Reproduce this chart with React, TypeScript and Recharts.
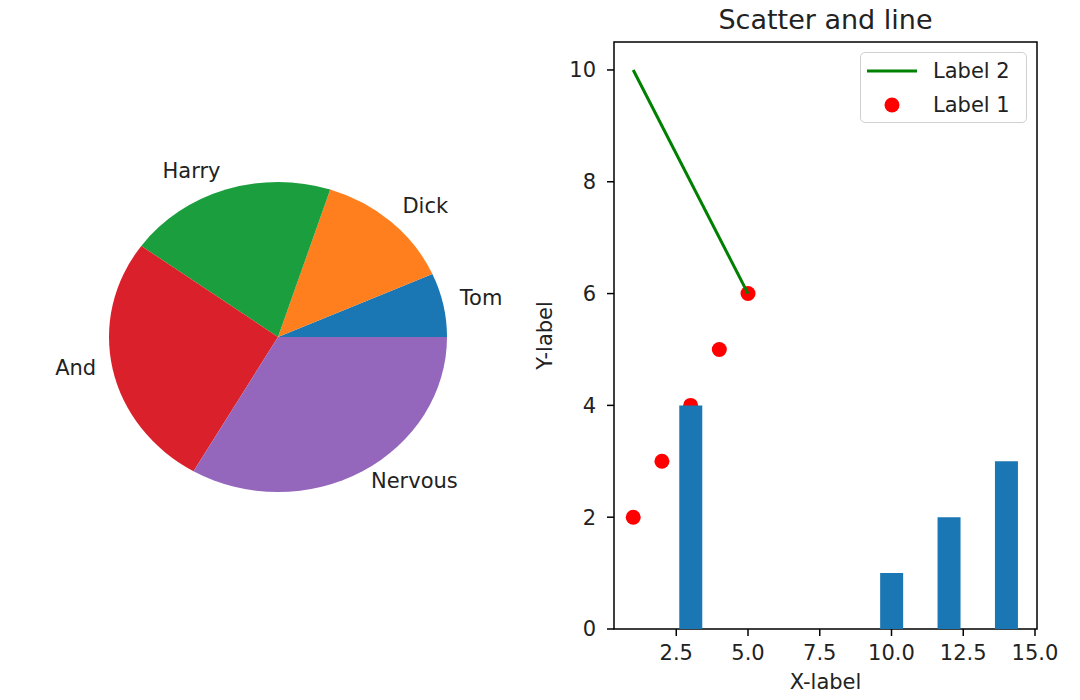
import React from 'react';
import {
  PieChart,
  Pie,
  Cell,
  ComposedChart,
  Bar,
  Line,
  Scatter,
  XAxis,
  YAxis,
  ReferenceArea,
  Legend
} from 'recharts';

const pieNames = ['Tom', 'Dick', 'Harry', 'And', 'Nervous'];
const pieValues = [1, 2, 3, 4, 5];
const pieColors = ['#1a77b4', '#ff7f1e', '#1a9e3e', '#d9202b', '#9467bd'];

const scatterX = [1, 2, 3, 4, 5];
const scatterY = [2, 3, 4, 5, 6];
const lineX = [1, 5];
const lineY = [10, 6];
const barX = [3, 10, 12, 14];
const barY = [4, 1, 2, 3];
const xTicks = [2.5, 5, 7.5, 10, 12.5, 15];
const yTicks = [0, 2, 4, 6, 8, 10];

const pieData = pieNames.map((name, i) => ({ name, value: pieValues[i] }));
const scatterData = scatterX.map((x, i) => ({ x, y: scatterY[i] }));
const lineData = lineX.map((x, i) => ({ x, y: lineY[i] }));
const barData = barX.map((x, i) => ({ x, y: barY[i] }));

const TEXT = '#222';
const FONT = 21;
// the pie in the source is an ellipse (no equal aspect), squash it vertically
const SQUASH = 0.917;
const RADIAN = Math.PI / 180;

const renderPieLabel = (props: any) => {
  const { cx, cy, midAngle, outerRadius, name } = props;
  const r = outerRadius * 1.1;
  const x = cx + r * Math.cos(-midAngle * RADIAN);
  const y = cy + r * Math.sin(-midAngle * RADIAN);
  return (
    <text
      transform={`translate(${x},${y}) scale(1,${1 / SQUASH})`}
      x={0}
      y={-4}
      textAnchor={x > cx ? 'start' : 'end'}
      dominantBaseline="central"
      fill={TEXT}
      fontSize={FONT}
    >
      {name}
    </text>
  );
};

const renderXLabel = (props: any) => {
  const vb = props.viewBox;
  return (
    <text x={vb.x + vb.width / 2} y={vb.y + 60} textAnchor="middle" fill={TEXT} fontSize={FONT}>
      X-label
    </text>
  );
};

const renderYLabel = (props: any) => {
  const vb = props.viewBox;
  const x = vb.x + 25;
  const y = vb.y + vb.height / 2;
  return (
    <text
      transform={`translate(${x},${y}) rotate(-90)`}
      x={0}
      y={0}
      textAnchor="middle"
      dominantBaseline="central"
      fill={TEXT}
      fontSize={FONT}
    >
      Y-label
    </text>
  );
};

const renderDot = (props: any) => (
  <circle cx={props.cx} cy={props.cy} r={7.5} fill="#ff0000" />
);

function LegendBox(props: any) {
  const items = [...(props.payload || [])]
    .filter((p: any) => p.type !== 'none')
    .sort((a: any, b: any) => (a.type === 'line' ? 0 : 1) - (b.type === 'line' ? 0 : 1));
  return (
    <div
      style={{
        boxSizing: 'border-box',
        width: 167,
        height: 71,
        border: '1.5px solid #d0d0d0',
        borderRadius: 5,
        background: '#fff',
        padding: '1px 0 0 6px'
      }}
    >
      {items.map((item: any) => (
        <div key={item.value} style={{ display: 'flex', alignItems: 'center', height: 34 }}>
          <svg width={50} height={20}>
            {item.type === 'line' ? (
              <line x1={0} x2={50} y1={10} y2={10} stroke="#008000" strokeWidth={3} />
            ) : (
              <circle cx={25} cy={10} r={7.5} fill="#ff0000" />
            )}
          </svg>
          <span style={{ marginLeft: 16, fontSize: FONT, color: TEXT }}>{item.value}</span>
        </div>
      ))}
    </div>
  );
}

export default function App() {
  return (
    <div
      style={{
        position: 'absolute',
        left: 0,
        top: 0,
        width: 1080,
        height: 700,
        background: '#fff',
        fontFamily: '"DejaVu Sans", sans-serif',
        overflow: 'hidden'
      }}
    >
      <div
        style={{
          position: 'absolute',
          left: 0,
          top: 0,
          transform: `scaleY(${SQUASH})`,
          transformOrigin: '278px 337px'
        }}
      >
        <PieChart width={516} height={700} margin={{ top: 0, right: 0, bottom: 0, left: 0 }}>
          <Pie
            data={pieData}
            dataKey="value"
            nameKey="name"
            cx={278}
            cy={337}
            outerRadius={169}
            startAngle={0}
            endAngle={360}
            stroke="none"
            labelLine={false}
            label={renderPieLabel}
            isAnimationActive={false}
          >
            {pieData.map((d, i) => (
              <Cell key={d.name} fill={pieColors[i]} />
            ))}
          </Pie>
        </PieChart>
      </div>

      <div
        style={{
          position: 'absolute',
          left: 614,
          top: 6,
          width: 423,
          textAlign: 'center',
          fontSize: 27,
          lineHeight: '27px',
          color: TEXT
        }}
      >
        Scatter and line
      </div>

      <div style={{ position: 'absolute', left: 520, top: 0 }}>
        <ComposedChart
          width={560}
          height={700}
          data={barData}
          margin={{ top: 42, right: 43, bottom: 0, left: 0 }}
        >
          <XAxis
            dataKey="x"
            type="number"
            domain={[0.33, 15.07]}
            allowDataOverflow
            ticks={xTicks}
            tickFormatter={(v: number) => v.toFixed(1)}
            axisLine={false}
            tickLine={{ stroke: '#000', strokeWidth: 1.5 }}
            tickSize={7}
            tickMargin={9}
            height={71}
            tick={{ fill: TEXT, fontSize: FONT }}
            label={renderXLabel}
          />
          <YAxis
            type="number"
            domain={[0, 10.5]}
            allowDataOverflow
            ticks={yTicks}
            axisLine={false}
            tickLine={{ stroke: '#000', strokeWidth: 1.5 }}
            tickSize={7}
            tickMargin={11}
            width={94}
            tick={{ fill: TEXT, fontSize: FONT }}
            label={renderYLabel}
          />
          <Scatter
            name="Label 1"
            data={scatterData}
            dataKey="y"
            fill="#ff0000"
            shape={renderDot}
            zIndex={300}
            isAnimationActive={false}
          />
          <Bar
            dataKey="y"
            fill="#1a77b4"
            barSize={23}
            legendType="none"
            zIndex={400}
            isAnimationActive={false}
          />
          <Line
            name="Label 2"
            data={lineData}
            dataKey="y"
            type="linear"
            stroke="#008000"
            strokeWidth={3}
            dot={false}
            zIndex={500}
            isAnimationActive={false}
          />
          <ReferenceArea
            x1={0.33}
            x2={15.07}
            y1={0}
            y2={10.5}
            fill="none"
            stroke="#000"
            strokeWidth={1.5}
          />
          <Legend
            layout="horizontal"
            verticalAlign="middle"
            align="center"
            wrapperStyle={{ top: 52, left: 340, width: 167, height: 71 }}
            content={LegendBox}
          />
        </ComposedChart>
      </div>
    </div>
  );
}
